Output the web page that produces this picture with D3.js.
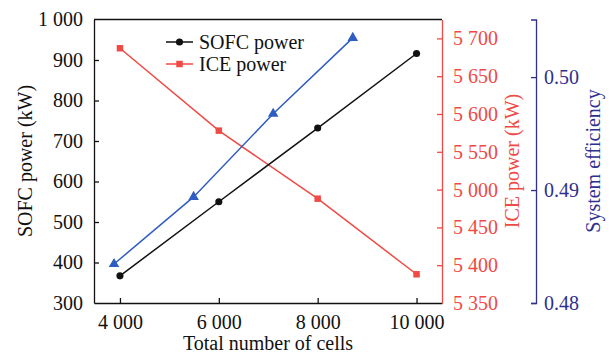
<!DOCTYPE html>
<html>
<head>
<meta charset="utf-8">
<script src="https://cdn.jsdelivr.net/npm/d3@7"></script>
<style>
  body { margin: 0; background: #fff; }
  svg text { font-family: "Liberation Serif", "Times New Roman", serif; }
</style>
</head>
<body>
<div id="chart"></div>
<script>
// values
const cells = [4000, 6000, 8000, 10000];
const sofcPower = [367, 550, 732, 916];
const icePower = [5687, 5578, 5488, 5388];
const effCells = [3880, 5490, 7100, 8710];
const efficiency = [0.48345, 0.48939, 0.49675, 0.50347];

const xTicks = [4000, 6000, 8000, 10000];
const leftTicks = [300, 400, 500, 600, 700, 800, 900, 1000];
const iceTicks = [5350, 5400, 5450, 5500, 5550, 5600, 5650, 5700];
// the original figure prints "5 000" at the 5 500 tick
const iceTickLabels = ['5 350', '5 400', '5 450', '5 000', '5 550', '5 600', '5 650', '5 700'];
const effTicks = [0.48, 0.49, 0.50];

const width = 611;
const height = 359;
const plot = { left: 94, right: 442, top: 19.5, bottom: 303 };
const effAxisX = 536;

const serif = '"Liberation Serif", "Times New Roman", serif';
const black = '#111';
const red = '#ef4a44';
const blue = '#2f5cc2';
const navy = '#2e2f8e';

const svg = d3.select('#chart').
  append('svg').
  attr('width', width).
  attr('height', height);

const x = d3.scaleLinear().domain([3475, 10515]).range([plot.left, plot.right]);
const yLeft = d3.scaleLinear().domain([300, 1000]).range([plot.bottom, plot.top]);
const yIce = d3.scaleLinear().domain([5350, 5725]).range([plot.bottom, plot.top]);
const yEff = d3.scaleLinear().domain([0.48, 0.5051]).range([plot.bottom, plot.top]);

const spaced = d3.format(',');
const fmtSpace = d => spaced(d).replace(/,/g, ' ');

// top border of the frame
svg.append('line').
  attr('x1', plot.left).attr('x2', plot.right).
  attr('y1', plot.top).attr('y2', plot.top).
  attr('stroke', black).attr('stroke-width', 1.3);

function styleAxis(g, color) {
  g.attr('font-family', serif).attr('font-size', 20);
  g.select('.domain').attr('stroke', color).attr('stroke-width', 1.3);
  g.selectAll('.tick line').attr('stroke', color).attr('stroke-width', 1.3);
  g.selectAll('.tick text').
    attr('fill', color).
    style('font-family', serif).
    style('font-size', '20px');
}

// bottom axis
const xAxis = svg.append('g').
  attr('transform', 'translate(0,' + plot.bottom + ')').
  call(d3.axisBottom(x).tickValues(xTicks).tickFormat(fmtSpace).tickSizeInner(-5).tickSizeOuter(0).tickPadding(16));
styleAxis(xAxis, black);
xAxis.selectAll('.tick text').attr('dy', '0.5em');

// left axis
const leftAxis = svg.append('g').
  attr('transform', 'translate(' + plot.left + ',0)').
  call(d3.axisLeft(yLeft).tickValues(leftTicks).tickFormat(fmtSpace).tickSizeInner(-5).tickSizeOuter(0).tickPadding(11));
styleAxis(leftAxis, black);
leftAxis.selectAll('.tick').filter(d => d === 300 || d === 1000).select('line').remove();

// ICE axis (right side of frame)
const iceAxis = svg.append('g').
  attr('transform', 'translate(' + plot.right + ',0)').
  call(d3.axisRight(yIce).tickValues(iceTicks).
    tickFormat((d, i) => iceTickLabels[i]).tickSizeInner(-5).tickSizeOuter(0).tickPadding(11));
styleAxis(iceAxis, red);
iceAxis.selectAll('.tick').filter(d => d === 5350).select('line').remove();

// efficiency axis
const effAxis = svg.append('g').
  attr('transform', 'translate(' + effAxisX + ',0)').
  call(d3.axisRight(yEff).tickValues(effTicks).tickFormat(d3.format('.2f')).tickSizeInner(-5).tickSizeOuter(-5).tickPadding(8));
styleAxis(effAxis, navy);

// axis titles
svg.append('text').
  attr('x', 268).attr('y', 350).
  attr('text-anchor', 'middle').
  attr('fill', black).
  style('font-size', '20px').
  text('Total number of cells');

svg.append('text').
  attr('transform', 'translate(32,161) rotate(-90)').
  attr('text-anchor', 'middle').
  attr('fill', black).
  style('font-size', '20px').
  text('SOFC power (kW)');

svg.append('text').
  attr('transform', 'translate(519,161) rotate(-90)').
  attr('text-anchor', 'middle').
  attr('fill', red).
  style('font-size', '20px').
  text('ICE power (kW)');

svg.append('text').
  attr('transform', 'translate(600,161) rotate(-90)').
  attr('text-anchor', 'middle').
  attr('fill', navy).
  style('font-size', '20px').
  text('System efficiency');

// series
const sofcData = cells.map((c, i) => [c, sofcPower[i]]);
const iceData = cells.map((c, i) => [c, icePower[i]]);
const effData = effCells.map((c, i) => [c, efficiency[i]]);

function drawLine(data, yScale, color) {
  svg.append('path').
    datum(data).
    attr('fill', 'none').
    attr('stroke', color).
    attr('stroke-width', 1.5).
    attr('d', d3.line().x(d => x(d[0])).y(d => yScale(d[1])));
}

drawLine(iceData, yIce, red);
drawLine(effData, yEff, blue);
drawLine(sofcData, yLeft, black);

const circle = d3.symbol().type(d3.symbolCircle).size(40);
const square = d3.symbol().type(d3.symbolSquare).size(42);
const triangle = d3.symbol().type(d3.symbolTriangle).size(48);

svg.append('g').selectAll('path').
  data(iceData).
  enter().
  append('path').
  attr('transform', d => 'translate(' + x(d[0]) + ',' + yIce(d[1]) + ')').
  attr('d', square).
  attr('fill', red);

svg.append('g').selectAll('path').
  data(effData).
  enter().
  append('path').
  attr('transform', d => 'translate(' + x(d[0]) + ',' + yEff(d[1]) + ')').
  attr('d', triangle).
  attr('fill', blue);

svg.append('g').selectAll('path').
  data(sofcData).
  enter().
  append('path').
  attr('transform', d => 'translate(' + x(d[0]) + ',' + yLeft(d[1]) + ')').
  attr('d', circle).
  attr('fill', black);

// legend
const legend = svg.append('g').attr('transform', 'translate(166,0)');
const legendItems = [
  { label: 'SOFC power', color: black, symbol: circle, y: 42 },
  { label: 'ICE power', color: red, symbol: square, y: 64 }];

legendItems.forEach(function (item) {
  legend.append('line').
    attr('x1', 0).attr('x2', 27).
    attr('y1', item.y).attr('y2', item.y).
    attr('stroke', item.color).attr('stroke-width', 1.5);
  legend.append('path').
    attr('transform', 'translate(13.5,' + item.y + ')').
    attr('d', item.symbol).
    attr('fill', item.color);
  legend.append('text').
    attr('x', 33).attr('y', item.y).
    attr('dy', '0.35em').
    attr('fill', black).
    style('font-size', '20px').
    text(item.label);
});
</script>
</body>
</html>
